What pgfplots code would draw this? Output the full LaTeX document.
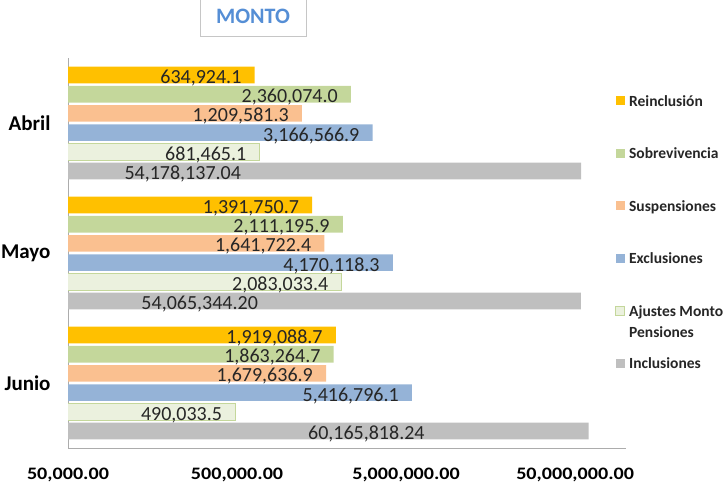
\documentclass[border=0pt]{standalone}
\usepackage{fontspec}
\setmainfont{Carlito}
\newfontfamily\tickfont{Carlito}[FakeStretch=1.15]
\usepackage{pgfplots}
\pgfplotsset{compat=1.18}

\definecolor{cRein}{HTML}{FFC000}
\definecolor{cSobre}{HTML}{C4D79B}
\definecolor{cSusp}{HTML}{FAC090}
\definecolor{cExcl}{HTML}{95B3D7}
\definecolor{cAjus}{HTML}{EBF1DE}
\definecolor{cIncl}{HTML}{BFBFBF}
\definecolor{titleblue}{HTML}{558ED5}

\pgfplotsset{
  sq/.style={legend image code/.code={\path[##1] (0bp,-4.5bp) rectangle (9bp,4.5bp);}},
  lbl/.style={nodes near coords, point meta=explicit symbolic,
    nodes near coords align={anchor=base east},
    every node near coord/.append style={anchor=base east, xshift=-13bp, yshift=-8.5bp,
      inner sep=0pt, font=\fontsize{20bp}{24bp}\selectfont, text=black!85}},
}
\newcommand{\lstrut}{\rule[-4bp]{0pt}{16bp}}

\begin{document}
\begin{tikzpicture}
\path[use as bounding box] (-68bp,-38bp) rectangle (660bp,448bp);
\begin{axis}[
  scale only axis, width=558bp, height=390bp,
  xmode=log, xmin=5e4, xmax=1e8, ymin=-0.5, ymax=2.5,
  axis lines*=left,
  axis line style={draw=gray!65, line width=0.8bp},
  tick style={draw=none},
  major tick length=0pt, minor tick length=0pt,
  xtick={5e4,5e5,5e6,5e7},
  xticklabels={{50,000.00},{500,000.00},{5,000,000.00},{50,000,000.00}},
  ytick={0,1,2}, yticklabels={Junio,Mayo,Abril},
  xticklabel style={font=\tickfont\bfseries\fontsize{17.5bp}{20bp}\selectfont,
    anchor=base, yshift=-31bp, text=black},
  yticklabel style={font=\bfseries\fontsize{21bp}{24bp}\selectfont,
    anchor=east, xshift=-14bp, text=black},
  title={MONTO},
  title style={at={(0.3315,1)}, anchor=center, yshift=35.5bp,
    draw=gray!45, line width=0.8bp, minimum width=106bp, minimum height=39bp,
    inner sep=0pt, text=titleblue, font=\bfseries\fontsize{22bp}{24bp}\selectfont},
  legend style={at={(0.980,0.9077)}, anchor=north west, draw=none, fill=none,
    inner sep=0pt, row sep=39bp, column sep=4bp,
    nodes={inner sep=0pt, text=black!85, font=\bfseries\fontsize{15.5bp}{21bp}\selectfont}},
  legend cell align=left,
]
\addplot[xbar, sq, bar width=0.128, bar shift=0, fill=cRein, draw=none, lbl]
  coordinates {(634924.1,2.369) [634,924.1] (1391750.7,1.369) [1,391,750.7] (1919088.7,0.369) [1,919,088.7]};
\addlegendentry{\lstrut Reinclusión}
\addplot[xbar, sq, bar width=0.128, bar shift=0, fill=cSobre, draw=none, lbl]
  coordinates {(2360074.0,2.2215) [2,360,074.0] (2111195.9,1.2215) [2,111,195.9] (1863264.7,0.2215) [1,863,264.7]};
\addlegendentry{\lstrut Sobrevivencia}
\addplot[xbar, sq, bar width=0.128, bar shift=0, fill=cSusp, draw=none, lbl]
  coordinates {(1209581.3,2.0738) [1,209,581.3] (1641722.4,1.0738) [1,641,722.4] (1679636.9,0.0738) [1,679,636.9]};
\addlegendentry{\lstrut Suspensiones}
\addplot[xbar, sq, bar width=0.128, bar shift=0, fill=cExcl, draw=none, lbl]
  coordinates {(3166566.9,1.9262) [3,166,566.9] (4170118.3,0.9262) [4,170,118.3] (5416796.1,-0.0738) [5,416,796.1]};
\addlegendentry{\lstrut Exclusiones}
\addplot[xbar, sq, bar width=0.128, bar shift=0, fill=cAjus, draw=cSobre, line width=1.1bp, lbl]
  coordinates {(681465.1,1.7785) [681,465.1] (2083033.4,0.7785) [2,083,033.4] (490033.5,-0.2215) [490,033.5]};
\addlegendentry{\lstrut\smash{\begin{tabular}[t]{@{}l@{}}Ajustes Monto\\Pensiones\end{tabular}}}
\addplot[xbar, sq, bar width=0.128, bar shift=0, fill=cIncl, draw=none]
  coordinates {(54178137.04,1.631) (54065344.20,0.631) (60165818.24,-0.369)};
\addlegendentry{\lstrut Inclusiones}
\begin{scope}[every node/.style={anchor=base, inner sep=0pt, yshift=-8.5bp,
    font=\fontsize{20bp}{24bp}\selectfont, text=black!85}]
\node at (axis cs:238600,1.631) {54,178,137.04};
\node at (axis cs:300600,0.631) {54,065,344.20};
\node at (axis cs:2910000,-0.369) {60,165,818.24};
\end{scope}
\end{axis}
\end{tikzpicture}
\end{document}
